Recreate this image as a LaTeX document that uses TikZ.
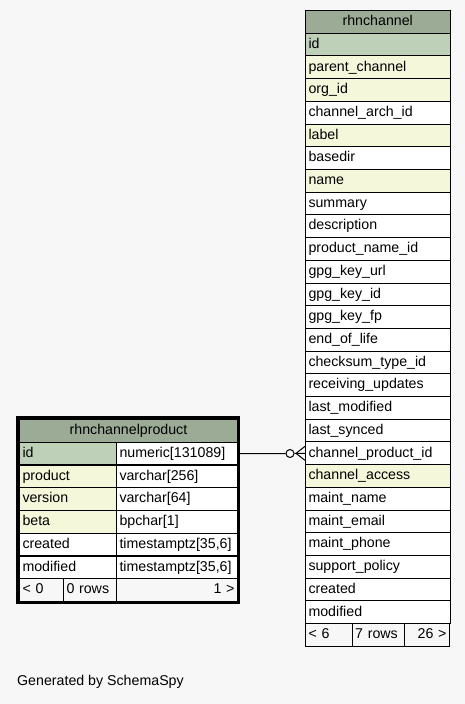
\documentclass[tikz,border=0pt]{standalone}
\usepackage{fontspec}
\setmainfont{Liberation Sans}
\usetikzlibrary{positioning}
\definecolor{pagebg}{HTML}{F7F7F7}
\definecolor{headbg}{HTML}{9BAB96}
\definecolor{keybg}{HTML}{BED1B8}
\definecolor{fkbg}{HTML}{F4F7DA}
\tikzset{
	cell/.style={draw, line width=1pt, anchor=north west, inner xsep=3pt, inner ysep=0pt,
		minimum height=22.7pt, text height=10.5pt, text depth=3pt, align=left,
		font=\fontsize{14.2}{16}\selectfont},
	chcell/.style={cell, minimum width=144.5pt, text width=138.5pt},
	namecell/.style={cell, minimum width=97pt, text width=91pt},
	typecell/.style={cell, minimum width=121pt, text width=115pt}
}
\begin{document}
\begin{tikzpicture}[x=1pt, y=-1pt]
\fill[pagebg] (0, 0) rectangle (465, 704);
\useasboundingbox (0, 0) rectangle (465, 704);
\node[chcell, fill=headbg, align=center] (chhead) at (305, 10) {rhnchannel};
\foreach \f/\c [count=\i] in {id/keybg, parent\_channel/fkbg, org\_id/fkbg, channel\_arch\_id/white,
	label/fkbg, basedir/white, name/fkbg, summary/white, description/white, product\_name\_id/white,
	gpg\_key\_url/white, gpg\_key\_id/white, gpg\_key\_fp/white, end\_of\_life/white,
	checksum\_type\_id/white, receiving\_updates/white, last\_modified/white, last\_synced/white,
	channel\_product\_id/white, channel\_access/fkbg, maint\_name/white, maint\_email/white,
	maint\_phone/white, support\_policy/white, created/white, modified/white}
	\node[chcell, fill=\c] (ch\i) at (305, {10+22.71*\i}) {\f};
\node[cell, fill=pagebg, minimum width=46.7pt, text width=40.7pt] (chprev) at (305, 623.2) {< 6};
\node[cell, fill=pagebg, minimum width=51.8pt, text width=45.8pt] (chrows) at (351.7, 623.2) {7 rows};
\node[cell, fill=pagebg, minimum width=45.5pt, text width=39.5pt, align=right] (chnext) at (403.5, 623.2) {26 >};
\node[cell, fill=headbg, align=center, minimum width=218pt, text width=212pt] (prhead) at (19, 419) {rhnchannelproduct};
\foreach \f/\t/\c [count=\i] in {{id/numeric[131089]/keybg}, {product/varchar[256]/fkbg},
	{version/varchar[64]/fkbg}, {beta/bpchar[1]/fkbg}, {created/timestamptz[35,6]/white},
	{modified/timestamptz[35,6]/white}}
	\draw (19, {419+22.75*\i}) node[namecell, fill=\c] (pr\i) {\f}
		(116, {419+22.75*\i}) node[typecell, fill=white] (prT\i) {\t};
\node[cell, fill=pagebg, minimum width=44pt, text width=38pt] (prprev) at (19, 578.25) {< 0};
\node[cell, fill=pagebg, minimum width=53pt, text width=47pt] (prrows) at (63, 578.25) {0 rows};
\node[typecell, fill=pagebg, align=right] (prnext) at (116, 578.25) {1 >};
\draw[line width=3pt] (17.5, 417.5) rectangle (238.5, 602.5);
\node[circle, draw, line width=1pt, minimum size=8pt, inner sep=0pt] (ring) at (290, 453.5) {};
\draw[line width=1pt] (prT1.east) -- (ring.west) (ring.east) -- (ch19.west);
\coordinate (apex) at ([xshift=-9pt]ch19.west);
\draw[line width=1pt] ([yshift=7pt]ch19.west) -- (apex) -- ([yshift=-7pt]ch19.west);
\node[anchor=west, inner sep=0pt, font=\fontsize{14.2}{16}\selectfont] (gen) at (17, 682) {Generated by SchemaSpy};
\end{tikzpicture}
\end{document}
